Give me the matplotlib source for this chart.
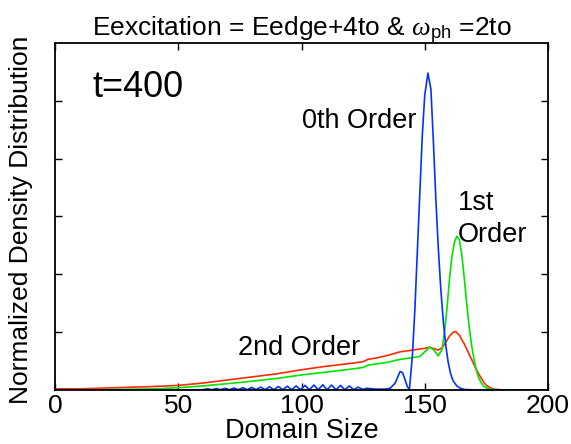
import matplotlib.pyplot as plt
import numpy as np

plt.rcParams['font.family'] = ['Liberation Sans', 'DejaVu Sans']
plt.rcParams['mathtext.fontset'] = 'custom'
plt.rcParams['mathtext.rm'] = 'Liberation Sans'
plt.rcParams['mathtext.it'] = 'Liberation Serif:italic'

# ---------- Data ----------
# 0th order (blue): ripples 60-125, small bump at 140, main peak at ~151
blue_x = [0, 30, 50, 58,
          60.0, 61.8, 63.6, 65.4, 67.2, 69.0, 70.8, 72.6, 74.4, 76.2, 78.0,
          79.8, 81.6, 83.4, 85.2, 87.0, 88.8, 90.6, 92.4, 94.2, 96.0, 97.8,
          99.6, 101.4, 103.2, 105.0, 106.8, 108.6, 110.4, 112.2, 114.0, 115.8,
          117.6, 119.4, 121.2, 123.0, 124.8, 126.6,
          130, 134, 136, 138, 139, 140, 141, 142, 143, 143.8, 145, 146, 147,
          148, 149, 150, 151.3, 152.5, 153.5, 154.5, 155.5, 156.5, 157.5,
          158.5, 159.5, 160.5, 161.5, 163, 164.5, 166, 170, 200]
blue_y = [0, 0, 0, 0.005,
          0.005, 0.02, 0.005, 0.025, 0.005, 0.03, 0.005, 0.035, 0.005, 0.04, 0.005,
          0.045, 0.005, 0.05, 0.005, 0.055, 0.005, 0.06, 0.005, 0.065, 0.005, 0.07,
          0.005, 0.08, 0.005, 0.085, 0.005, 0.09, 0.005, 0.085, 0.005, 0.08,
          0.005, 0.07, 0.005, 0.05, 0.01, 0.03,
          0.015, 0.015, 0.03, 0.12, 0.22, 0.32, 0.3, 0.18, 0.05, 0.02, 0.6, 1.4, 2.4,
          3.4, 4.4, 5.1, 5.48, 5.2, 4.3, 3.3, 2.45, 1.75, 1.2,
          0.78, 0.48, 0.28, 0.16, 0.07, 0.03, 0.01, 0, 0]

# 1st order (green)
green_x = [0, 20, 40, 50, 60, 75, 90, 100, 110, 120, 125, 127, 130, 132,
           135, 140, 145, 148, 150, 152, 153.5, 155.5, 157, 158, 159, 160, 161,
           162, 163, 164, 165, 166, 167, 168, 169, 170, 171, 172, 173, 174,
           176, 180, 200]
green_y = [0, 0.005, 0.02, 0.04, 0.07, 0.13, 0.2, 0.26, 0.31, 0.36, 0.39, 0.43,
           0.45, 0.46, 0.48, 0.53, 0.56, 0.58, 0.66, 0.74, 0.7, 0.59, 0.7, 1.0,
           1.4, 1.9, 2.3, 2.55, 2.66, 2.6, 2.35, 1.95, 1.5, 1.1, 0.78, 0.52,
           0.33, 0.2, 0.12, 0.06, 0.02, 0, 0]

# 2nd order (red)
red_x = [0, 10, 25, 40, 50, 60, 75, 90, 100, 110, 120, 125, 127, 130, 133,
         135, 140, 145, 150, 152, 154, 155.5, 157, 158.5, 160, 161.5, 162.5,
         164, 166, 168, 170, 171, 172, 173, 174, 175, 176.5, 178, 182, 200]
red_y = [0.02, 0.02, 0.04, 0.06, 0.08, 0.12, 0.2, 0.28, 0.35, 0.41, 0.46,
         0.49, 0.53, 0.55, 0.58, 0.6, 0.66, 0.69, 0.72, 0.74, 0.71, 0.69, 0.73,
         0.82, 0.93, 1.0, 1.01, 0.95, 0.8, 0.62, 0.44, 0.35, 0.27, 0.2, 0.13,
         0.08, 0.04, 0.015, 0, 0]

x_ticks = [0, 50, 100, 150, 200]

# ---------- Plot ----------
fig = plt.figure(figsize=(5.71, 4.44), dpi=100)
ax = fig.add_axes([55/571, 54/444, 493/571, 347/444])

ax.plot(red_x, red_y, color='#ff2a00', lw=1.2)
ax.plot(green_x, green_y, color='#00e400', lw=1.2)
ax.plot(blue_x, blue_y, color='#0033ff', lw=1.2)

ax.set_xlim(0, 200)
ax.set_ylim(0, 6)
ax.set_xticks(x_ticks)
ax.set_yticks([1, 2, 3, 4, 5])
ax.set_yticklabels([])
ax.tick_params(direction='in', top=True, right=True, length=5, width=1,
               labelsize=19, pad=3)
for s in ax.spines.values():
    s.set_linewidth(1.3)

ax.set_xlabel('Domain Size', fontsize=19.5, labelpad=0)
ax.set_ylabel('Normalized Density Distribution', fontsize=19)
ax.yaxis.set_label_coords(-0.045, 0.49)
ax.set_title(r'Eexcitation = Eedge+4to & $\omega_{\rm ph}$ =2to', fontsize=19, pad=5)

ax.text(15.4, 5.07, 't=400', fontsize=26, va='baseline')
ax.text(100.2, 4.53, '0th Order', fontsize=19.5, va='baseline')
ax.text(163.5, 3.11, '1st', fontsize=19.5, va='baseline')
ax.text(163.5, 2.56, 'Order', fontsize=19.5, va='baseline')
ax.text(74.2, 0.61, '2nd Order', fontsize=19.5, va='baseline')

fig.savefig('out.png', dpi=100)
